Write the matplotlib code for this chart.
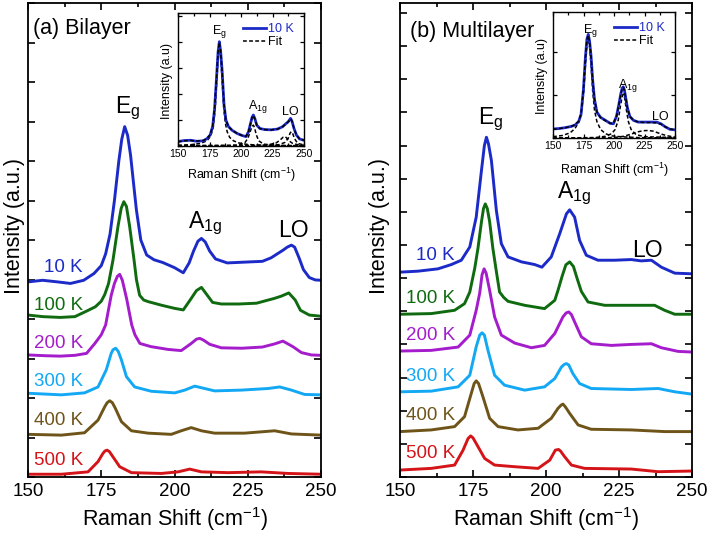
import matplotlib
matplotlib.use('Agg')
import matplotlib.pyplot as plt
from matplotlib.ticker import MultipleLocator

plt.rcParams['font.family'] = ['Liberation Sans', 'DejaVu Sans']
plt.rcParams['mathtext.fontset'] = 'custom'
plt.rcParams['mathtext.rm'] = 'Liberation Sans'

temps = ['10 K', '100 K', '200 K', '300 K', '400 K', '500 K']
colors = ['#1c2ac8', '#0f6a10', '#a41ccc', '#12a8f4', '#6e5418', '#d41418']

# ---- (a) Bilayer, stacked spectra ----
bi_10_x = [150, 155, 160, 164.5, 169, 172.5, 175, 176.5, 178, 179.5, 181, 182, 183, 184, 185, 186, 187, 188.5,
           190.5, 193, 196, 200, 203, 205, 206.5, 208, 209.2, 210.5, 212, 214, 218, 224, 230, 233, 235.3, 237,
           238.5, 239.9, 241, 242.5, 244, 246, 248, 250]
bi_10_y = [4.94, 4.98, 4.94, 4.90, 4.98, 5.15, 5.35, 5.65, 6.15, 7.0, 8.0, 8.55, 8.87, 8.65, 8.15, 7.45, 6.76,
           6.0, 5.62, 5.5, 5.43, 5.3, 5.17, 5.42, 5.72, 5.97, 6.04, 5.95, 5.72, 5.52, 5.42, 5.44, 5.46, 5.55,
           5.66, 5.74, 5.82, 5.87, 5.82, 5.55, 5.25, 5.05, 4.99, 4.98]
bi_100_x = [150, 155, 161, 166, 170, 173, 175, 176.2, 177.5, 179, 180.7, 181.8, 182.7, 183.6, 184.7, 186.2, 187,
            188.1, 189.5, 191, 195.5, 200, 203, 205.7, 207.5, 209.2, 211, 213, 216, 222, 228, 234, 236.5, 239,
            241.2, 243, 246, 250]
bi_100_y = [4.10, 4.06, 4.04, 4.06, 4.2, 4.31, 4.45, 4.62, 4.9, 5.49, 6.34, 6.8, 6.97, 6.85, 6.34, 5.49, 5.0,
            4.6, 4.48, 4.44, 4.35, 4.27, 4.23, 4.52, 4.72, 4.80, 4.62, 4.42, 4.38, 4.38, 4.40, 4.52, 4.58, 4.66,
            4.48, 4.22, 4.10, 4.07]
bi_200_x = [150, 156, 161, 166, 170, 172.8, 175, 176.5, 178.4, 179.5, 180.5, 181.3, 182.2, 183.7, 185.4, 186.5,
            188.2, 192, 197.8, 202.3, 205.7, 207.5, 208.6, 209.8, 212, 216, 223, 230, 234.2, 237.0, 240.4,
            243.3, 246.7, 250]
bi_200_y = [3.09, 3.07, 3.06, 3.08, 3.13, 3.38, 3.6, 3.85, 4.6, 4.9, 5.08, 5.13, 4.98, 4.5, 3.85, 3.6, 3.38,
            3.30, 3.23, 3.20, 3.38, 3.49, 3.51, 3.47, 3.36, 3.27, 3.26, 3.29, 3.37, 3.44, 3.30, 3.15, 3.09, 3.08]
bi_300_x = [150, 161.4, 169.3, 173.9, 176.7, 178.4, 179.0, 179.9, 180.8, 181.9, 183.6, 186.4, 192.1, 200.1,
            203.5, 206.9, 210.3, 213.7, 222.8, 231.9, 235.9, 239.9, 244.4, 250]
bi_300_y = [2.12, 2.08, 2.13, 2.28, 2.71, 3.13, 3.22, 3.26, 3.18, 2.96, 2.54, 2.28, 2.17, 2.13, 2.20, 2.30,
            2.24, 2.18, 2.20, 2.24, 2.28, 2.20, 2.09, 2.08]
bi_400_x = [150, 161.4, 169.3, 173.9, 176.2, 177.0, 177.9, 178.8, 179.8, 181.9, 185.3, 191.0, 198.9, 202.3,
            205.7, 209.2, 213.7, 223.9, 234.2, 239.9, 250]
bi_400_y = [1.08, 1.06, 1.12, 1.44, 1.78, 1.88, 1.93, 1.88, 1.74, 1.40, 1.17, 1.11, 1.08, 1.17, 1.25, 1.17,
            1.11, 1.11, 1.17, 1.09, 1.06]
bi_500_x = [150, 161.4, 170.5, 173.9, 175.6, 176.3, 177.0, 177.8, 179.0, 181.3, 185.3, 195.5, 201.2, 205.2,
            209.2, 218.3, 229.6, 238.7, 250]
bi_500_y = [0.07, 0.07, 0.13, 0.39, 0.60, 0.66, 0.68, 0.64, 0.51, 0.26, 0.11, 0.09, 0.13, 0.20, 0.13, 0.11,
            0.13, 0.09, 0.07]

# ---- (b) Multilayer ----
ml_10_x = [150, 156.2, 163.0, 167.6, 171.0, 173.9, 176.1, 177.9, 178.9, 179.6, 180.3, 181.3, 183.0, 184.7,
           187.0, 191.6, 196.1, 198.6, 201.8, 204.7, 207.0, 208.1, 209.8, 211.5, 213.8, 217.8, 223.5, 229.2,
           232.6, 236.1, 239.5, 244.1, 250]
ml_10_y = [6.18, 6.21, 6.28, 6.41, 6.54, 6.94, 7.84, 9.25, 10.0, 10.25, 10.05, 9.55, 8.04, 7.04, 6.64, 6.49,
           6.41, 6.33, 6.64, 7.34, 7.94, 8.06, 7.84, 7.14, 6.69, 6.54, 6.54, 6.56, 6.52, 6.54, 6.33, 6.15, 6.13]
ml_100_x = [150, 160.7, 168.7, 172.1, 173.9, 175.6, 176.7, 177.9, 178.6, 179.2, 179.9, 180.7, 181.8, 183.0,
            184.1, 185.5, 187.0, 192.7, 199.5, 203.0, 204.1, 205.5, 206.8, 208.1, 209.4, 210.8, 212.1, 214.4,
            220.1, 229.2, 237.2, 240.6, 244.1, 250]
ml_100_y = [4.91, 4.93, 5.03, 5.23, 5.58, 6.3, 6.9, 7.7, 8.1, 8.24, 8.1, 7.7, 6.9, 6.2, 5.58, 5.42, 5.3, 5.18,
            5.08, 5.33, 5.63, 6.05, 6.4, 6.49, 6.35, 5.95, 5.6, 5.28, 5.18, 5.18, 5.18, 5.03, 4.91, 4.91]
ml_200_x = [150, 160.7, 169.9, 173.9, 176.1, 177.3, 178.1, 178.8, 179.5, 180.7, 182.4, 184.7, 189.3, 195.0,
            199.5, 203.0, 205.8, 206.9, 207.8, 208.7, 209.8, 212.1, 215.5, 222.4, 229.2, 236.1, 239.5, 245.2, 250]
ml_200_y = [3.80, 3.82, 3.92, 4.28, 5.03, 5.55, 6.1, 6.28, 6.15, 5.63, 4.83, 4.28, 4.04, 3.90, 3.97, 4.33,
            4.83, 4.95, 4.98, 4.9, 4.68, 4.23, 4.02, 3.97, 4.00, 4.02, 3.90, 3.79, 3.77]
ml_300_x = [150, 160.7, 169.9, 173.9, 176.1, 177.3, 178.1, 178.9, 180.1, 182.4, 185.8, 192.7, 199.5, 203.0,
            205.3, 206.3, 207.0, 207.8, 209.2, 211.5, 215.5, 229.2, 238.4, 244.1, 250]
ml_300_y = [2.57, 2.59, 2.72, 3.07, 3.93, 4.28, 4.35, 4.28, 3.83, 3.07, 2.77, 2.62, 2.72, 2.97, 3.32, 3.40,
            3.42, 3.38, 3.12, 2.82, 2.67, 2.64, 2.67, 2.57, 2.50]
ml_400_x = [150, 160.7, 168.7, 172.1, 174.4, 175.4, 176.1, 176.9, 178.4, 180.7, 183.6, 190.4, 197.3, 201.8,
            204.1, 205.2, 205.8, 206.6, 208.1, 211.0, 215.5, 229.2, 240.6, 250]
ml_400_y = [1.37, 1.42, 1.52, 1.82, 2.52, 2.82, 2.90, 2.82, 2.42, 1.77, 1.52, 1.42, 1.47, 1.77, 2.07, 2.17,
            2.20, 2.12, 1.92, 1.57, 1.44, 1.42, 1.37, 1.37]
ml_500_x = [150, 160.7, 168.7, 171.6, 173.3, 174.2, 175.0, 176.1, 179.0, 182.4, 189.3, 197.3, 201.3, 203.2,
            204.3, 205.0, 206.4, 208.7, 213.2, 229.2, 238.4, 250]
ml_500_y = [0.21, 0.26, 0.36, 0.81, 1.16, 1.24, 1.18, 1.01, 0.56, 0.36, 0.31, 0.26, 0.51, 0.81, 0.83, 0.78,
            0.61, 0.36, 0.26, 0.24, 0.16, 0.18]

# ---- insets: 10 K spectrum with Lorentzian fit ----
ia_x = [150, 155, 160, 165, 170, 173, 175.5, 177.5, 179, 180.5, 181.8, 182.8, 183.8, 185, 186.5, 188, 190, 193,
        197, 201, 204, 206, 207.5, 208.8, 209.8, 211, 212.5, 215, 219, 224, 229, 233, 235.5, 237.5, 239.3,
        240.5, 242, 244, 246.5, 250]
ia_data = [0.17, 0.21, 0.22, 0.18, 0.2, 0.28, 0.42, 0.75, 1.4, 2.55, 3.6, 4.0, 3.65, 2.9, 1.6, 1.0, 0.75, 0.6,
           0.48, 0.4, 0.36, 0.55, 0.85, 1.1, 1.19, 1.05, 0.8, 0.67, 0.63, 0.62, 0.65, 0.74, 0.85, 0.93, 1.06,
           0.95, 0.68, 0.42, 0.27, 0.22]
ia_fit = [0.16, 0.2, 0.21, 0.19, 0.21, 0.29, 0.43, 0.76, 1.42, 2.55, 3.6, 3.98, 3.64, 2.88, 1.6, 1.0, 0.74, 0.6,
          0.48, 0.4, 0.37, 0.55, 0.84, 1.1, 1.17, 1.04, 0.8, 0.67, 0.63, 0.62, 0.65, 0.74, 0.84, 0.93, 1.04,
          0.95, 0.68, 0.42, 0.27, 0.22]
ia_eg_x = [150, 160, 168, 173, 176, 178, 179.5, 180.8, 182, 182.8, 183.6, 184.8, 186.2, 187.5, 189, 191, 194,
           198, 205, 215, 230, 250]
ia_eg_y = [0.03, 0.05, 0.1, 0.2, 0.38, 0.72, 1.4, 2.5, 3.5, 3.9, 3.6, 2.7, 1.5, 0.9, 0.55, 0.33, 0.2, 0.12,
           0.06, 0.03, 0.02, 0.01]
ia_a1g_x = [150, 190, 198, 203, 205.5, 207.5, 208.8, 209.8, 210.8, 212, 214, 218, 230, 250]
ia_a1g_y = [0.01, 0.02, 0.04, 0.12, 0.3, 0.58, 0.76, 0.8, 0.7, 0.45, 0.2, 0.07, 0.02, 0.01]
ia_lo1_x = [150, 210, 222, 228, 231.5, 233.5, 234.8, 236, 238, 241, 245, 250]
ia_lo1_y = [0.01, 0.02, 0.05, 0.12, 0.25, 0.34, 0.36, 0.32, 0.2, 0.1, 0.05, 0.03]
ia_lo2_x = [150, 220, 230, 235, 237.5, 239, 240, 241, 242.5, 245, 250]
ia_lo2_y = [0.01, 0.02, 0.05, 0.14, 0.3, 0.5, 0.55, 0.48, 0.28, 0.1, 0.04]

ib_x = [150, 155, 160, 165, 168, 171, 173, 175, 176.5, 177.8, 178.9, 180, 181.2, 182.5, 184, 186, 189, 193,
        197, 199.5, 202, 204, 205.5, 206.7, 207.6, 208.5, 209.7, 211, 213, 216, 220, 225, 230, 235, 238.5, 242,
        246, 250]
ib_data = [0.21, 0.22, 0.24, 0.27, 0.30, 0.38, 0.55, 1.15, 1.85, 2.3, 2.41, 2.25, 1.9, 1.35, 0.9, 0.6, 0.48,
           0.41, 0.34, 0.33, 0.5, 0.78, 1.02, 1.16, 1.19, 1.12, 0.92, 0.7, 0.5, 0.41, 0.37, 0.37, 0.37, 0.37,
           0.33, 0.26, 0.2, 0.19]
ib_fit = [0.2, 0.22, 0.24, 0.27, 0.31, 0.39, 0.56, 1.14, 1.84, 2.28, 2.39, 2.24, 1.88, 1.34, 0.9, 0.6, 0.47,
          0.4, 0.34, 0.34, 0.5, 0.78, 1.0, 1.15, 1.18, 1.11, 0.92, 0.7, 0.5, 0.41, 0.37, 0.36, 0.36, 0.35,
          0.32, 0.26, 0.21, 0.19]
ib_eg_x = [150, 158, 164, 168, 171, 173, 175, 176.5, 177.8, 178.9, 180, 181.2, 182.5, 184, 186, 189, 193, 198,
           205, 220, 250]
ib_eg_y = [0.03, 0.06, 0.12, 0.22, 0.36, 0.55, 1.0, 1.65, 2.15, 2.3, 2.12, 1.7, 1.1, 0.65, 0.38, 0.2, 0.1, 0.05,
           0.03, 0.01, 0.0]
ib_a1g_x = [150, 185, 193, 198, 201, 203.5, 205.3, 206.6, 207.6, 208.6, 210, 211.8, 214, 218, 225, 250]
ib_a1g_y = [0.0, 0.01, 0.04, 0.1, 0.2, 0.42, 0.75, 0.95, 1.02, 0.95, 0.68, 0.38, 0.2, 0.08, 0.03, 0.01]
ib_bg_x = [150, 200, 208, 214, 219, 224, 228, 232, 236, 240, 244, 250]
ib_bg_y = [0.0, 0.01, 0.04, 0.09, 0.14, 0.17, 0.175, 0.16, 0.12, 0.08, 0.05, 0.02]

# label heights for the temperature tags (data units)
bi_tag_y = [5.30, 4.34, 3.38, 2.41, 1.44, 0.43]
ml_tag_y = [6.69, 5.39, 4.28, 3.02, 1.87, 0.71]

fig = plt.figure(figsize=(7.09, 5.38), dpi=100)
ax_a = fig.add_axes([28 / 709, 61 / 538, 293 / 709, 474 / 538])
ax_b = fig.add_axes([400 / 709, 61 / 538, 292 / 709, 474 / 538])


def style_main(ax, ymax):
    ax.set_xlim(150, 250)
    ax.set_ylim(0, ymax)
    ax.xaxis.set_major_locator(MultipleLocator(25))
    ax.xaxis.set_minor_locator(MultipleLocator(12.5))
    ax.yaxis.set_major_locator(MultipleLocator(1))
    ax.set_yticklabels([])
    ax.tick_params(which='both', direction='in', top=True, right=True, width=1.2)
    ax.tick_params(which='major', length=5, labelsize=13.5, pad=4)
    ax.tick_params(which='minor', length=3)
    for s in ax.spines.values():
        s.set_linewidth(1.3)
    ax.set_xlabel('Raman Shift (cm$^\\mathregular{-1}$)', fontsize=15.5, labelpad=4)
    ax.set_ylabel('Intensity (a.u.)', fontsize=15.5)


bi_curves = [(bi_10_x, bi_10_y), (bi_100_x, bi_100_y), (bi_200_x, bi_200_y),
             (bi_300_x, bi_300_y), (bi_400_x, bi_400_y), (bi_500_x, bi_500_y)]
ml_curves = [(ml_10_x, ml_10_y), (ml_100_x, ml_100_y), (ml_200_x, ml_200_y),
             (ml_300_x, ml_300_y), (ml_400_x, ml_400_y), (ml_500_x, ml_500_y)]

for (x, y), c in zip(bi_curves[::-1], colors[::-1]):
    ax_a.plot(x, y, color=c, lw=2.1, solid_joinstyle='round')
for (x, y), c in zip(ml_curves[::-1], colors[::-1]):
    ax_b.plot(x, y, color=c, lw=2.1, solid_joinstyle='round')

for t, ty, c in zip(temps, bi_tag_y, colors):
    ax_a.text(168.8, ty, t, color=c, fontsize=13.5, ha='right', va='center')
for t, ty, c in zip(temps, ml_tag_y, colors):
    ax_b.text(168.8, ty, t, color=c, fontsize=13.5, ha='right', va='center')

style_main(ax_a, 12.0)
style_main(ax_b, 14.3)
ax_a.yaxis.set_label_coords(-0.011, 0.53)
ax_b.yaxis.set_label_coords(-0.034, 0.53)

ax_a.text(0.017, 0.946, '(a) Bilayer', transform=ax_a.transAxes, fontsize=15.5, va='center')
ax_b.text(0.034, 0.94, '(b) Multilayer', transform=ax_b.transAxes, fontsize=15.5, va='center')

ax_a.text(179.7, 9.22, 'E$_\\mathregular{g}$', fontsize=16.5, va='baseline')
ax_a.text(204.6, 6.30, 'A$_\\mathregular{1g}$', fontsize=16.5, va='baseline')
ax_a.text(235.3, 6.08, 'LO', fontsize=16.5, va='baseline')
ax_b.text(176.7, 10.66, 'E$_\\mathregular{g}$', fontsize=16.5, va='baseline')
ax_b.text(203.8, 8.40, 'A$_\\mathregular{1g}$', fontsize=16.5, va='baseline')
ax_b.text(229.5, 6.63, 'LO', fontsize=16.5, va='baseline')

# insets
ins_a = fig.add_axes([178 / 709, 392 / 538, 126 / 709, 133 / 538])
ins_b = fig.add_axes([553 / 709, 400 / 538, 122 / 709, 126 / 538])

blue = colors[0]
for ax, xx, yy in [(ins_a, ia_eg_x, ia_eg_y), (ins_a, ia_a1g_x, ia_a1g_y), (ins_a, ia_lo1_x, ia_lo1_y),
                   (ins_a, ia_lo2_x, ia_lo2_y), (ins_b, ib_eg_x, ib_eg_y), (ins_b, ib_a1g_x, ib_a1g_y),
                   (ins_b, ib_bg_x, ib_bg_y)]:
    ax.plot(xx, yy, color='black', lw=1.1, ls=(0, (2.5, 1.5)))

ins_a.plot(ia_x, ia_data, color=blue, lw=2.0, label='10 K')
ins_a.plot(ia_x, ia_fit, color='black', lw=1.1, ls=(0, (2.5, 1.5)), label='Fit')
ins_b.plot(ib_x, ib_data, color=blue, lw=2.0, label='10 K')
ins_b.plot(ib_x, ib_fit, color='black', lw=1.1, ls=(0, (2.5, 1.5)), label='Fit')

for ax, ymax in [(ins_a, 5.1), (ins_b, 2.93)]:
    ax.set_xlim(150, 250)
    ax.set_ylim(0, ymax)
    ax.xaxis.set_major_locator(MultipleLocator(25))
    ax.xaxis.set_minor_locator(MultipleLocator(12.5))
    ax.yaxis.set_major_locator(MultipleLocator(1))
    ax.set_yticklabels([])
    ax.tick_params(which='both', direction='in', top=True, right=True, width=0.9)
    ax.tick_params(which='major', length=3, labelsize=7.5, pad=2.5)
    ax.tick_params(which='minor', length=2)
    for s in ax.spines.values():
        s.set_linewidth(1.0)
    ax.set_xlabel('Raman Shift (cm$^\\mathregular{-1}$)', fontsize=9)
    ax.set_ylabel('Intensity (a.u)', fontsize=9)
    leg = ax.legend(loc='upper right', frameon=False, fontsize=9, handlelength=1.8, handletextpad=0.2,
                    labelspacing=0.1, borderaxespad=0.5, borderpad=0.3)
    leg.get_texts()[0].set_color(blue)

ins_a.xaxis.set_label_coords(0.5, -0.15)
ins_a.yaxis.set_label_coords(-0.04, 0.485)
ins_b.xaxis.set_label_coords(0.5, -0.18)
ins_b.yaxis.set_label_coords(-0.041, 0.49)

ins_a.text(177, 4.3, 'E$_\\mathregular{g}$', fontsize=9, va='baseline')
ins_a.text(205.6, 1.42, 'A$_\\mathregular{1g}$', fontsize=9, va='baseline')
ins_a.text(232.3, 1.19, 'LO', fontsize=9, va='baseline')
ins_b.text(174.6, 2.45, 'E$_\\mathregular{g}$', fontsize=9, va='baseline')
ins_b.text(203.0, 1.16, 'A$_\\mathregular{1g}$', fontsize=9, va='baseline')
ins_b.text(230.9, 0.43, 'LO', fontsize=9, va='baseline')

fig.savefig('out.png', dpi=100)
